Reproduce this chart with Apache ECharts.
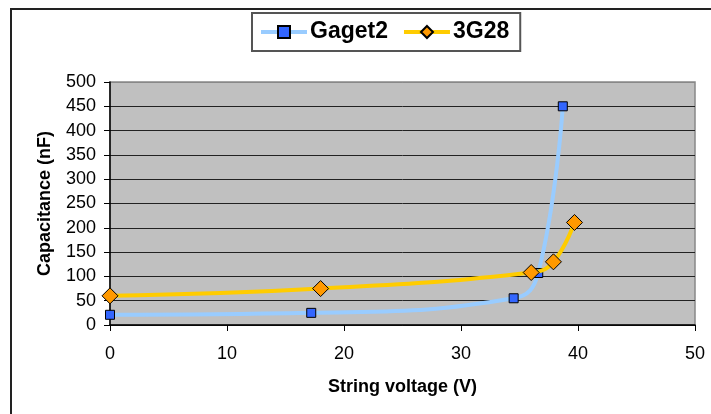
<!DOCTYPE html>
<html>
<head>
<meta charset="utf-8">
<script src="https://cdn.jsdelivr.net/npm/echarts@6/dist/echarts.min.js"></script>
<style>
html,body{margin:0;padding:0;background:#fff;}
#chart{width:711px;height:414px;}
</style>
</head>
<body>
<div id="chart"></div>
<script>
// Data
var gagetName = 'Gaget2';
var gagetX = [0, 17.2, 34.5, 36.6, 38.7];
var gagetY = [21, 25, 55, 107, 450];

var g28Name = '3G28';
var g28X = [0, 18.0, 36.0, 37.9, 39.7];
var g28Y = [60, 75, 108, 130, 211];

var xTicks = { min: 0, max: 50, interval: 10 };
var yTicks = { min: 0, max: 500, interval: 50 };

var xTitle = 'String voltage (V)';
var yTitle = 'Capacitance (nF)';

function pairs(xs, ys) { return xs.map(function (x, i) { return [x, ys[i]]; }); }

var FONT = 'Liberation Sans, Arial, sans-serif';
var splitColors = [];
for (var i = 0; i < 10; i++) splitColors.push('#222');
splitColors.push('#888');

var chart = echarts.init(document.getElementById('chart'), null, { renderer: 'canvas' });
chart.setOption({
  animation: false,
  backgroundColor: '#fff',
  textStyle: { fontFamily: FONT },
  graphic: [{
    type: 'rect', silent: true, z: -1,
    shape: { x: 11, y: 9, width: 800, height: 500 },
    style: { fill: 'none', stroke: '#222', lineWidth: 2 }
  }],
  legend: {
    left: 252, top: 13,
    padding: [5, 11, 5, 7],
    itemGap: 14,
    itemWidth: 46, itemHeight: 15,
    borderColor: '#555', borderWidth: 2,
    backgroundColor: '#fff',
    lineStyle: { width: 4 },
    textStyle: { fontFamily: FONT, fontSize: 23, fontWeight: 'bold', color: '#000', lineHeight: 28, padding: [0, 0, 0, -2] },
    data: [gagetName, g28Name]
  },
  grid: {
    left: 110, right: 16, top: 82, bottom: 89,
    show: true, backgroundColor: '#C0C0C0', borderColor: '#888', borderWidth: 1.5
  },
  xAxis: {
    type: 'value', min: xTicks.min, max: xTicks.max, interval: xTicks.interval,
    name: xTitle, nameLocation: 'middle', nameGap: 53,
    nameTextStyle: { fontFamily: FONT, fontSize: 18, fontWeight: 'bold', color: '#000' },
    axisLine: { lineStyle: { color: '#000', width: 1.5 } },
    axisTick: { show: true, inside: false, length: 6, lineStyle: { color: '#000' } },
    axisLabel: { fontFamily: FONT, fontSize: 18, color: '#000', margin: 20 },
    splitLine: { show: false }
  },
  yAxis: {
    type: 'value', min: yTicks.min, max: yTicks.max, interval: yTicks.interval,
    name: yTitle, nameLocation: 'middle', nameGap: 56,
    nameTextStyle: { fontFamily: FONT, fontSize: 18, fontWeight: 'bold', color: '#000' },
    axisLine: { show: true, lineStyle: { color: '#000', width: 1.5 } },
    axisTick: { show: true, inside: false, length: 6, lineStyle: { color: '#000' } },
    axisLabel: { fontFamily: FONT, fontSize: 18, color: '#000', margin: 14 },
    splitLine: { show: true, lineStyle: { color: splitColors, width: 1 } }
  },
  series: [{
    name: gagetName, type: 'line', smooth: 0.45,
    data: pairs(gagetX, gagetY),
    symbol: 'rect', symbolSize: 9,
    lineStyle: { color: '#99CCFF', width: 4 },
    itemStyle: { color: '#3366FF', borderColor: '#000', borderWidth: 1 },
    z: 2
  }, {
    name: g28Name, type: 'line', smooth: 0.45,
    data: pairs(g28X, g28Y),
    symbol: 'diamond', symbolSize: 16,
    lineStyle: { color: '#FFCC00', width: 4 },
    itemStyle: { color: '#FF9900', borderColor: '#000', borderWidth: 1 },
    z: 3
  }]
});
</script>
</body>
</html>
